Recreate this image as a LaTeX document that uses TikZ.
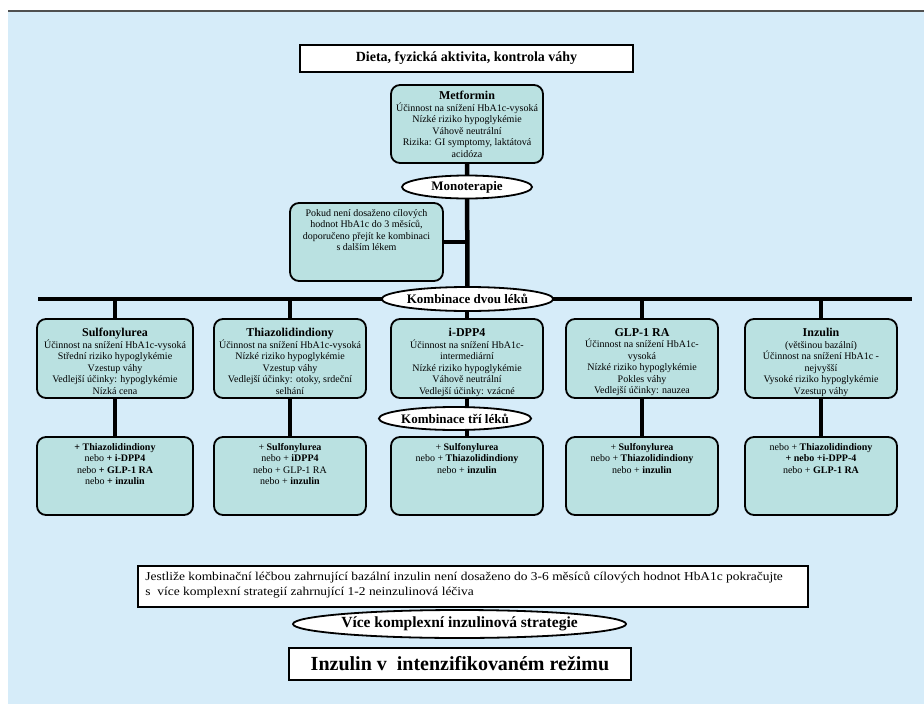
\documentclass[tikz,border=0pt]{standalone}
\usepackage{fontspec}
\setmainfont{Liberation Serif}
\newfontfamily\widefont[FakeStretch=1.12]{Liberation Serif}
\usetikzlibrary{shapes.geometric}
\definecolor{bgblue}{RGB}{214,236,249}
\definecolor{boxteal}{RGB}{186,225,225}
\definecolor{topline}{RGB}{80,80,80}
\pgfdeclarelayer{bg}
\pgfdeclarelayer{conn}
\pgfsetlayers{bg,conn,main}
\newcommand{\fs}[2]{\fontsize{#1}{#2}\selectfont}
\tikzset{
  rbox/.style={draw, line width=1.8pt, rounded corners=9pt, fill=boxteal, inner sep=0pt},
  sqbox/.style={draw, line width=1.6pt, fill=white, inner sep=0pt},
  oval/.style={ellipse, draw, line width=1.8pt, fill=white, inner sep=0pt, font=\bfseries\fs{13}{15}},
  txt/.style={anchor=north, inner sep=0pt, align=center, font=\fs{10}{11.5}},
  conn/.style={line width=4.5pt, black},
}
\begin{document}
\begin{tikzpicture}[x=1pt,y=-1pt]
\useasboundingbox (0,0) rectangle (924,704);
\begin{pgfonlayer}{bg}
  \fill[bgblue] (8,12) rectangle (924,704);
  \draw[line width=2pt, topline] (8,11) -- (924,11);
\end{pgfonlayer}

% top box
\node[sqbox, minimum width=333pt, minimum height=27pt, font=\bfseries\fs{14}{16}] (diet) at (466.5,58.5) {Dieta, fyzická aktivita, kontrola váhy};

% metformin
\node[rbox, minimum width=152pt, minimum height=78pt] (metf) at (467,124) {};
\node[txt] (metft) at ([yshift=-7pt]metf.north) {{\bfseries\fs{12}{13}Metformin}\\Účinnost na snížení HbA1c-vysoká\\Nízké riziko hypoglykémie\\Váhově neutrální\\Rizika: GI symptomy, laktátová\\acidóza};

\node[oval, minimum width=130pt, minimum height=23pt] (mono) at (467,187) {Monoterapie};

% pokud
\node[rbox, minimum width=153pt, minimum height=78pt] (pokud) at (366.5,242) {};
\node[txt] (pokudt) at ([yshift=-7pt]pokud.north) {Pokud není dosaženo cílových\\hodnot HbA1c do 3 měsíců,\\doporučeno přejít ke kombinaci\\s dalším lékem};

\node[oval, minimum width=161pt, minimum height=24pt] (kdvou) at (467.5,299) {Kombinace dvou léků};

% row 1 and row 2 boxes
\foreach \n/\cx/\w in {sulf/115/156, thia/290/152, dpp/467/152, glp/642/152, inz/821/152}{
  \node[rbox, minimum width=\w pt, minimum height=79pt] (\n) at (\cx,358.5) {};
  \node[rbox, minimum width=\w pt, minimum height=78pt] (\n2) at (\cx,476) {};
}
\node[txt] (sulft) at ([yshift=-10pt]sulf.north) {{\bfseries\fs{12}{13}Sulfonylurea}\\Účinnost na snížení HbA1c-vysoká\\Střední riziko hypoglykémie\\Vzestup váhy\\Vedlejší účinky: hypoglykémie\\Nízká cena};
\node[txt] (thiat) at ([yshift=-10pt]thia.north) {{\bfseries\fs{12}{13}Thiazolidindiony}\\Účinnost na snížení HbA1c-vysoká\\Nízké riziko hypoglykémie\\Vzestup váhy\\Vedlejší účinky: otoky, srdeční\\selhání};
\node[txt] (dppt) at ([yshift=-10pt]dpp.north) {{\bfseries\fs{12}{13}i-DPP4}\\Účinnost na snížení HbA1c-\\intermediární\\Nízké riziko hypoglykémie\\Váhově neutrální\\Vedlejší účinky: vzácné};
\node[txt] (glpt) at ([yshift=-10pt]glp.north) {{\bfseries\fs{12}{13}GLP-1 RA}\\Účinnost na snížení HbA1c-\\vysoká\\Nízké riziko hypoglykémie\\Pokles váhy\\Vedlejší účinky: nauzea};
\node[txt] (inzt) at ([yshift=-10pt]inz.north) {{\bfseries\fs{12}{13}Inzulin}\\(většinou bazální)\\Účinnost na snížení HbA1c -\\nejvyšší\\Vysoké riziko hypoglykémie\\Vzestup váhy};

\node[oval, minimum width=144pt, minimum height=23pt] (ktri) at (455,418.5) {Kombinace tří léků};

% row 2 texts
\node[txt] (sulf2t) at ([yshift=-7pt]sulf2.north) {\textbf{+ Thiazolidindiony}\\nebo \textbf{+ i-DPP4}\\nebo \textbf{+ GLP-1 RA}\\nebo \textbf{+ inzulin}};
\node[txt] (thia2t) at ([yshift=-7pt]thia2.north) {+ \textbf{Sulfonylurea}\\nebo + \textbf{iDPP4}\\nebo + GLP-1 RA\\nebo + \textbf{inzulin}};
\node[txt] (dpp2t) at ([yshift=-7pt]dpp2.north) {+ \textbf{Sulfonylurea}\\nebo + \textbf{Thiazolidindiony}\\nebo + \textbf{inzulin}};
\node[txt] (glp2t) at ([yshift=-7pt]glp2.north) {+ \textbf{Sulfonylurea}\\nebo + \textbf{Thiazolidindiony}\\nebo + \textbf{inzulin}};
\node[txt] (inz2t) at ([yshift=-7pt]inz2.north) {nebo + \textbf{Thiazolidindiony}\\\textbf{+ nebo +i-DPP-4}\\nebo + \textbf{GLP-1 RA}};

% bottom
\node[sqbox, minimum width=670pt, minimum height=41pt] (note) at (473,586.5) {};
\node[anchor=north west, inner sep=0pt, align=left, font=\widefont\fs{12}{15}] (notet) at ([xshift=8pt,yshift=-6pt]note.north west) {Jestliže kombinační léčbou zahrnující bazální inzulin není dosaženo do 3-6 měsíců cílových hodnot HbA1c pokračujte\\s~~více komplexní strategií zahrnující 1-2 neinzulinová léčiva};

\node[ellipse, draw, line width=1.8pt, fill=white, inner sep=0pt, minimum width=333pt, minimum height=28pt] (vice) at (459.5,624) {};
\node[inner sep=0pt, font=\bfseries\fs{15.5}{17}] (vicet) at (vice.center) {Více komplexní inzulinová strategie};
\node[sqbox, minimum width=342pt, minimum height=32pt, font=\bfseries\fs{20}{22}] (final) at (460,664) {Inzulin v~ intenzifikovaném režimu};

% connectors
\coordinate (busL) at (38,299);
\coordinate (busR) at (912,299);
\begin{pgfonlayer}{conn}
  \draw[conn] (metf.south) -- (kdvou.center);
  \draw[conn] (pokud.east) -- (pokud.east -| metf.south);
  \draw[conn] (busL) -- (busR);
  \foreach \n in {sulf,thia,dpp,glp,inz}{
    \draw[conn] (\n.north |- busL) -- (\n.north);
    \draw[conn] (\n.south) -- (\n2.north);
  }
\end{pgfonlayer}
\end{tikzpicture}
\end{document}
